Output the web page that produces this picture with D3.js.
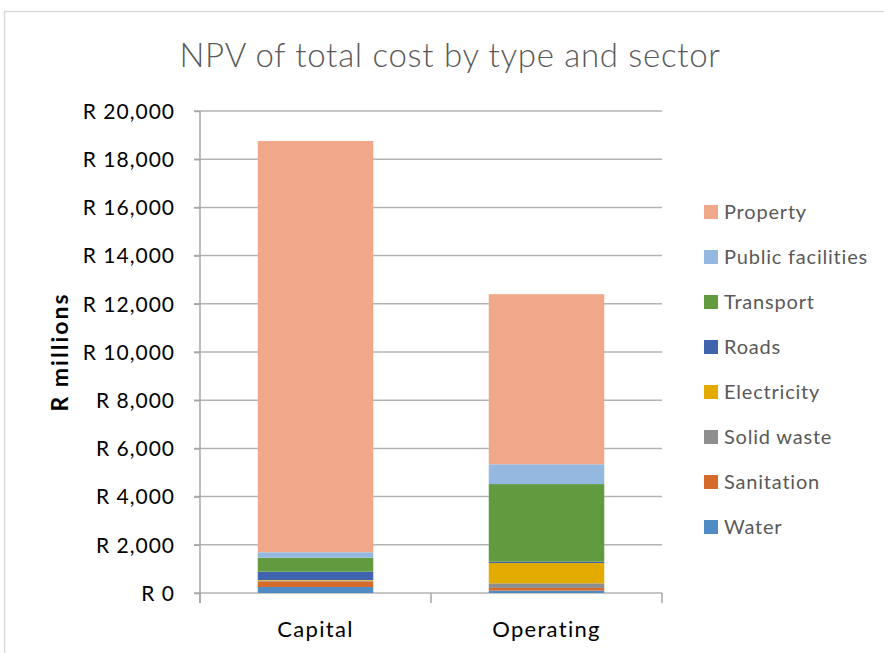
<!DOCTYPE html>
<html>
<head>
<meta charset="utf-8">
<script src="https://cdn.jsdelivr.net/npm/d3@7"></script>
<style>
  body { margin: 0; background: #fff; }
  text { font-family: Lato, "Open Sans", sans-serif; }
</style>
</head>
<body>
<div id="chart"></div>
<script>
// chart data (R millions)
var categories = ["Capital", "Operating"];
var sectors = ["Water", "Sanitation", "Solid waste", "Electricity", "Roads", "Transport", "Public facilities", "Property"];
var capitalValues = [250, 235, 30, 25, 345, 580, 225, 17065];
var operatingValues = [100, 110, 190, 845, 55, 3220, 820, 7060];
var sectorColors = ["#4f8bc5", "#d56b2a", "#8e8e8e", "#e3aa00", "#3f63ad", "#629a3f", "#95b8e0", "#f1a88a"];
var yTicks = [0, 2000, 4000, 6000, 8000, 10000, 12000, 14000, 16000, 18000, 20000];

var width = 884, height = 653;
var margin = {left: 200, right: 222, top: 111, bottom: 60};

var svg = d3.select("#chart").append("svg")
    .attr("width", width)
    .attr("height", height);

// chart frame
svg.append("path")
    .attr("d", "M4.5," + height + "V11.5H" + width)
    .attr("fill", "none")
    .attr("stroke", "#d9d9d9")
    .attr("stroke-width", 1.5);

var x = d3.scaleBand()
    .domain(categories)
    .range([margin.left, width - margin.right])
    .paddingInner(0.5)
    .paddingOuter(0.25);

var y = d3.scaleLinear()
    .domain([0, 20000])
    .range([height - margin.bottom, margin.top]);

//gridlines
svg.append("g").selectAll("line")
    .data(yTicks)
    .enter().append("line")
    .attr("x1", margin.left - 6)
    .attr("x2", width - margin.right)
    .attr("y1", function(d) { return y(d); })
    .attr("y2", function(d) { return y(d); })
    .attr("stroke", "#b3b3b3")
    .attr("stroke-width", 1.5);

//stack data
var rows = categories.map(function(c, i) {
  var r = {category: c};
  var vals = i === 0 ? capitalValues : operatingValues;
  sectors.forEach(function(s, j) { r[s] = vals[j]; });
  return r;
});
var series = d3.stack().keys(sectors)(rows);

svg.append("g").selectAll("g")
    .data(series)
    .enter().append("g")
    .attr("fill", function(d, i) { return sectorColors[i]; })
  .selectAll("rect")
    .data(function(d) { return d; })
    .enter().append("rect")
    .attr("x", function(d) { return x(d.data.category); })
    .attr("width", x.bandwidth())
    .attr("y", function(d) { return y(d[1]); })
    .attr("height", function(d) { return y(d[0]) - y(d[1]); });

//y axis
var yAxis = svg.append("g")
    .attr("transform", "translate(" + margin.left + ",0)")
    .call(d3.axisLeft(y).tickValues(yTicks).tickSize(6).tickPadding(19)
        .tickFormat(function(d) { return "R " + d3.format(",")(d); }));
yAxis.select(".domain").attr("stroke", "#a6a6a6").attr("stroke-width", 1.5)
    .attr("d", "M0," + y(20000) + "V" + (y(0) + 10));
yAxis.selectAll(".tick line").attr("stroke", "#a6a6a6").attr("stroke-width", 1.5);
yAxis.selectAll(".tick text")
    .attr("fill", "#000")
    .style("font-size", "21px")
    .style("letter-spacing", "1px")
    .attr("dy", "0.35em");

//x axis
var xAxis = svg.append("g")
    .attr("transform", "translate(0," + y(0) + ")")
    .call(d3.axisBottom(x).tickSize(0).tickPadding(28));
xAxis.select(".domain").remove();
xAxis.selectAll(".tick text")
    .attr("fill", "#000")
    .style("font-size", "22px")
    .style("letter-spacing", "1.3px");
var sep = [margin.left, (x(categories[0]) + x.bandwidth() + x(categories[1])) / 2, width - margin.right];
xAxis.selectAll(".sep")
    .data(sep)
    .enter().append("line")
    .attr("x1", function(d) { return d; })
    .attr("x2", function(d) { return d; })
    .attr("y1", 0)
    .attr("y2", 10)
    .attr("stroke", "#a6a6a6")
    .attr("stroke-width", 1.5);

//axis title
svg.append("text")
    .attr("transform", "translate(68," + ((y(0) + y(20000)) / 2) + ") rotate(-90)")
    .attr("text-anchor", "middle")
    .style("font-size", "23px")
    .style("letter-spacing", "2px")
    .style("font-weight", "bold")
    .attr("fill", "#000")
    .text("R millions");

//title
svg.append("text")
    .attr("x", 450)
    .attr("y", 67)
    .attr("text-anchor", "middle")
    .style("font-size", "33px")
    .style("letter-spacing", "0.7px")
    .style("font-weight", "300")
    .attr("fill", "#595959")
    .text("NPV of total cost by type and sector");

//legend
var legendItems = sectors.slice().reverse();
var legendColors = sectorColors.slice().reverse();
var legend = svg.append("g")
    .attr("transform", "translate(704,212)");
var li = legend.selectAll("g")
    .data(legendItems)
    .enter().append("g")
    .attr("transform", function(d, i) { return "translate(0," + i * 45 + ")"; });
li.append("rect")
    .attr("x", 0)
    .attr("y", -7)
    .attr("width", 14)
    .attr("height", 14)
    .attr("fill", function(d, i) { return legendColors[i]; });
li.append("text")
    .attr("x", 20)
    .attr("dy", "0.35em")
    .style("font-size", "20px")
    .style("letter-spacing", "0.8px")
    .attr("fill", "#595959")
    .text(function(d) { return d; });
</script>
</body>
</html>
